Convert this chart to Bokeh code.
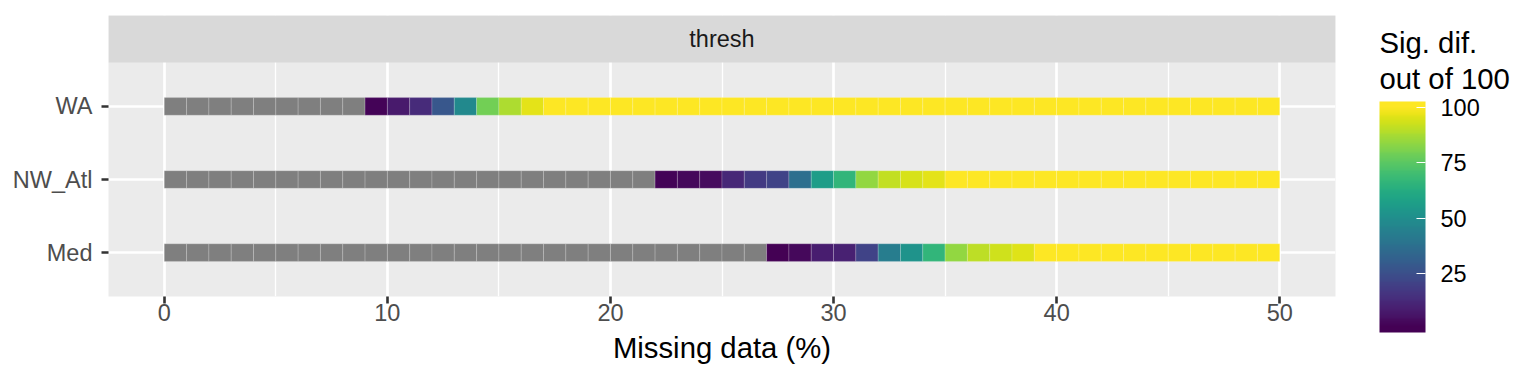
import numpy as np
from bokeh.plotting import figure
from bokeh.models import (ColumnDataSource, LinearColorMapper, FixedTicker,
                          SingleIntervalTicker, Range1d, ColorBar)
from bokeh.layouts import row
from bokeh.embed import file_html
from bokeh.resources import INLINE
from bokeh.core.properties import value
from bokeh.palettes import Viridis256

NA = float("nan")

# ---- data -----------------------------------------------------------
populations = ["Med", "NW_Atl", "WA"]          # bottom -> top
missing_pct = list(range(50))                  # tile start (Missing data %)

sig_WA = [NA, NA, NA, NA, NA, NA, NA, NA, NA,
          2, 8, 13, 28, 48, 79, 88, 96,
          100, 100, 100, 100, 100, 100, 100, 100, 100, 100, 100,
          100, 100, 100, 100, 100, 100, 100, 100, 100, 100, 100,
          100, 100, 100, 100, 100, 100, 100, 100, 100, 100, 100]
sig_NW_Atl = [NA, NA, NA, NA, NA, NA, NA, NA, NA, NA, NA,
              NA, NA, NA, NA, NA, NA, NA, NA, NA, NA, NA,
              2, 3, 4, 12, 18, 21, 37, 56, 66, 84, 91, 94, 96,
              100, 100, 100, 100, 100, 100, 100, 100, 100, 100,
              100, 100, 100, 100, 100]
sig_Med = [NA, NA, NA, NA, NA, NA, NA, NA, NA, NA, NA, NA, NA, NA,
           NA, NA, NA, NA, NA, NA, NA, NA, NA, NA, NA, NA, NA,
           1, 3, 9, 10, 21, 43, 52, 66, 84, 90, 93, 95,
           100, 100, 100, 100, 100, 100, 100, 100, 100, 100, 100]

series = {"Med": sig_Med, "NW_Atl": sig_NW_Atl, "WA": sig_WA}
legend_ticks = [25, 50, 75, 100]
facet_label = "thresh"
x_title = "Missing data (%)"
legend_title = "Sig. dif.\nout of 100"

# ---- styling / layout constants ------------------------------------
FONT = "Liberation Sans"
TILE_W = 1.0
TILE_H = 0.24
PANEL_BG = "#EBEBEB"
STRIP_BG = "#D9D9D9"
NA_COL = "#7F7F7F"
H = 376
B_LEFT, B_TOP, B_BOTTOM = 108, 15, 80
MAIN_W = 1345
LEG_W = 185
FRAME_H = H - B_TOP - B_BOTTOM

# ---- build source --------------------------------------------------
x0, x1, yb, yt, vals = [], [], [], [], []
for i, pop in enumerate(populations):
    y = i + 1
    for xm, v in zip(missing_pct, series[pop]):
        x0.append(xm); x1.append(xm + TILE_W)
        yb.append(y - TILE_H / 2); yt.append(y + TILE_H / 2)
        vals.append(v)
src = ColumnDataSource(dict(x0=x0, x1=x1, yb=yb, yt=yt, v=vals))

valid = [v for v in vals if not np.isnan(v)]
lo, hi = min(valid), max(valid)
mapper = LinearColorMapper(palette=Viridis256, low=lo, high=hi, nan_color=NA_COL)

xmin, xmax = min(missing_pct), max(missing_pct) + TILE_W
xpad = (xmax - xmin) * 0.05
x_start, x_end = xmin - xpad, xmax + xpad
ylo, yhi = 1 - 0.6, len(populations) + 0.6
strip_h = 0.643
ytop = yhi + strip_h

# ---- main figure ---------------------------------------------------
p = figure(width=MAIN_W, height=H, output_backend="svg", toolbar_location=None,
           x_range=Range1d(x_start, x_end), y_range=Range1d(ylo, ytop),
           min_border_left=B_LEFT, min_border_right=10,
           min_border_top=B_TOP, min_border_bottom=B_BOTTOM)
p.background_fill_color = PANEL_BG
p.border_fill_color = "white"
p.outline_line_color = None

# grid
p.xaxis.ticker = SingleIntervalTicker(interval=10, num_minor_ticks=2)
p.yaxis.ticker = FixedTicker(ticks=[1, 2, 3])
p.xgrid.grid_line_color = "white"
p.xgrid.grid_line_width = 2.6
p.xgrid.minor_grid_line_color = "white"
p.xgrid.minor_grid_line_width = 1.3
p.ygrid.grid_line_color = "white"
p.ygrid.grid_line_width = 2.6

# tiles
p.quad(left="x0", right="x1", bottom="yb", top="yt", source=src,
       fill_color={"field": "v", "transform": mapper},
       line_color="white", line_alpha=0.3, line_width=0.6)

# facet strip
p.quad(left=[x_start], right=[x_end], bottom=[yhi], top=[ytop],
       fill_color=STRIP_BG, line_color=None)
p.text(x=[(xmin + xmax) / 2], y=[(yhi + ytop) / 2], text=[facet_label],
       text_font=value(FONT), text_font_size="23.5px", text_color="#1A1A1A",
       text_align="center", text_baseline="middle")

# axes
for ax in (p.xaxis, p.yaxis):
    ax.axis_line_color = None
    ax.major_tick_line_color = "#333333"
    ax.major_tick_line_width = 2.6
    ax.major_tick_in = 0
    ax.major_tick_out = 7
    ax.minor_tick_line_color = None
    ax.major_label_text_font = FONT
    ax.major_label_text_font_size = "23.5px"
    ax.major_label_text_color = "#4D4D4D"
    ax.major_label_standoff = 0

p.yaxis.major_label_overrides = {i + 1: pop for i, pop in enumerate(populations)}
p.yaxis.major_label_standoff = 9
p.xaxis.axis_label = x_title
p.xaxis.axis_label_text_font = FONT
p.xaxis.axis_label_text_font_size = "29.3px"
p.xaxis.axis_label_text_font_style = "normal"
p.xaxis.axis_label_text_color = "black"
p.xaxis.axis_label_standoff = 7

# ---- legend figure (frame in pixel units, same vertical borders) ----
lg = figure(width=LEG_W, height=H, output_backend="svg", toolbar_location=None,
            x_range=Range1d(0, LEG_W), y_range=Range1d(0, FRAME_H),
            min_border_left=0, min_border_right=0,
            min_border_top=B_TOP, min_border_bottom=B_BOTTOM,
            x_axis_location=None, y_axis_location=None)
lg.grid.visible = False
lg.outline_line_color = None
lg.background_fill_color = "white"
lg.border_fill_color = "white"

CB_LEFT_PX = 34            # from legend frame left
CB_BOTTOM_PX = -36         # from legend frame bottom

lg.text(x=[CB_LEFT_PX], y=[FRAME_H - 10], text=[legend_title],
        text_font=value(FONT), text_font_size="29.3px", text_color="black",
        text_align="left", text_baseline="top", text_line_height=1.1)

# colour bar (ggplot style: bar extends half a bin past the limits)
bpad = (hi - lo) / 19 / 2
cb_low, cb_high = lo - bpad, hi + bpad
cb_palette = []
for k in range(256):
    v = cb_low + (k + 0.5) / 256 * (cb_high - cb_low)
    t = min(max((v - lo) / (hi - lo), 0.0), 1.0)
    cb_palette.append(Viridis256[int(round(t * 255))])
cb_mapper = LinearColorMapper(palette=cb_palette, low=cb_low, high=cb_high)

cb = ColorBar(color_mapper=cb_mapper, ticker=FixedTicker(ticks=legend_ticks),
              width=46, height=231, padding=0, margin=0,
              location=(CB_LEFT_PX, CB_BOTTOM_PX),
              major_label_text_font=FONT, major_label_text_font_size="23.5px",
              major_label_text_color="black", label_standoff=15,
              major_tick_in=9, major_tick_out=0,
              major_tick_line_color="white", major_tick_line_width=1.2,
              minor_tick_line_color=None, bar_line_color=None,
              border_line_color=None, background_fill_color=None)
lg.add_layout(cb, "center")

layout = row(p, lg)
open("out.html", "w").write(file_html(layout, INLINE))
